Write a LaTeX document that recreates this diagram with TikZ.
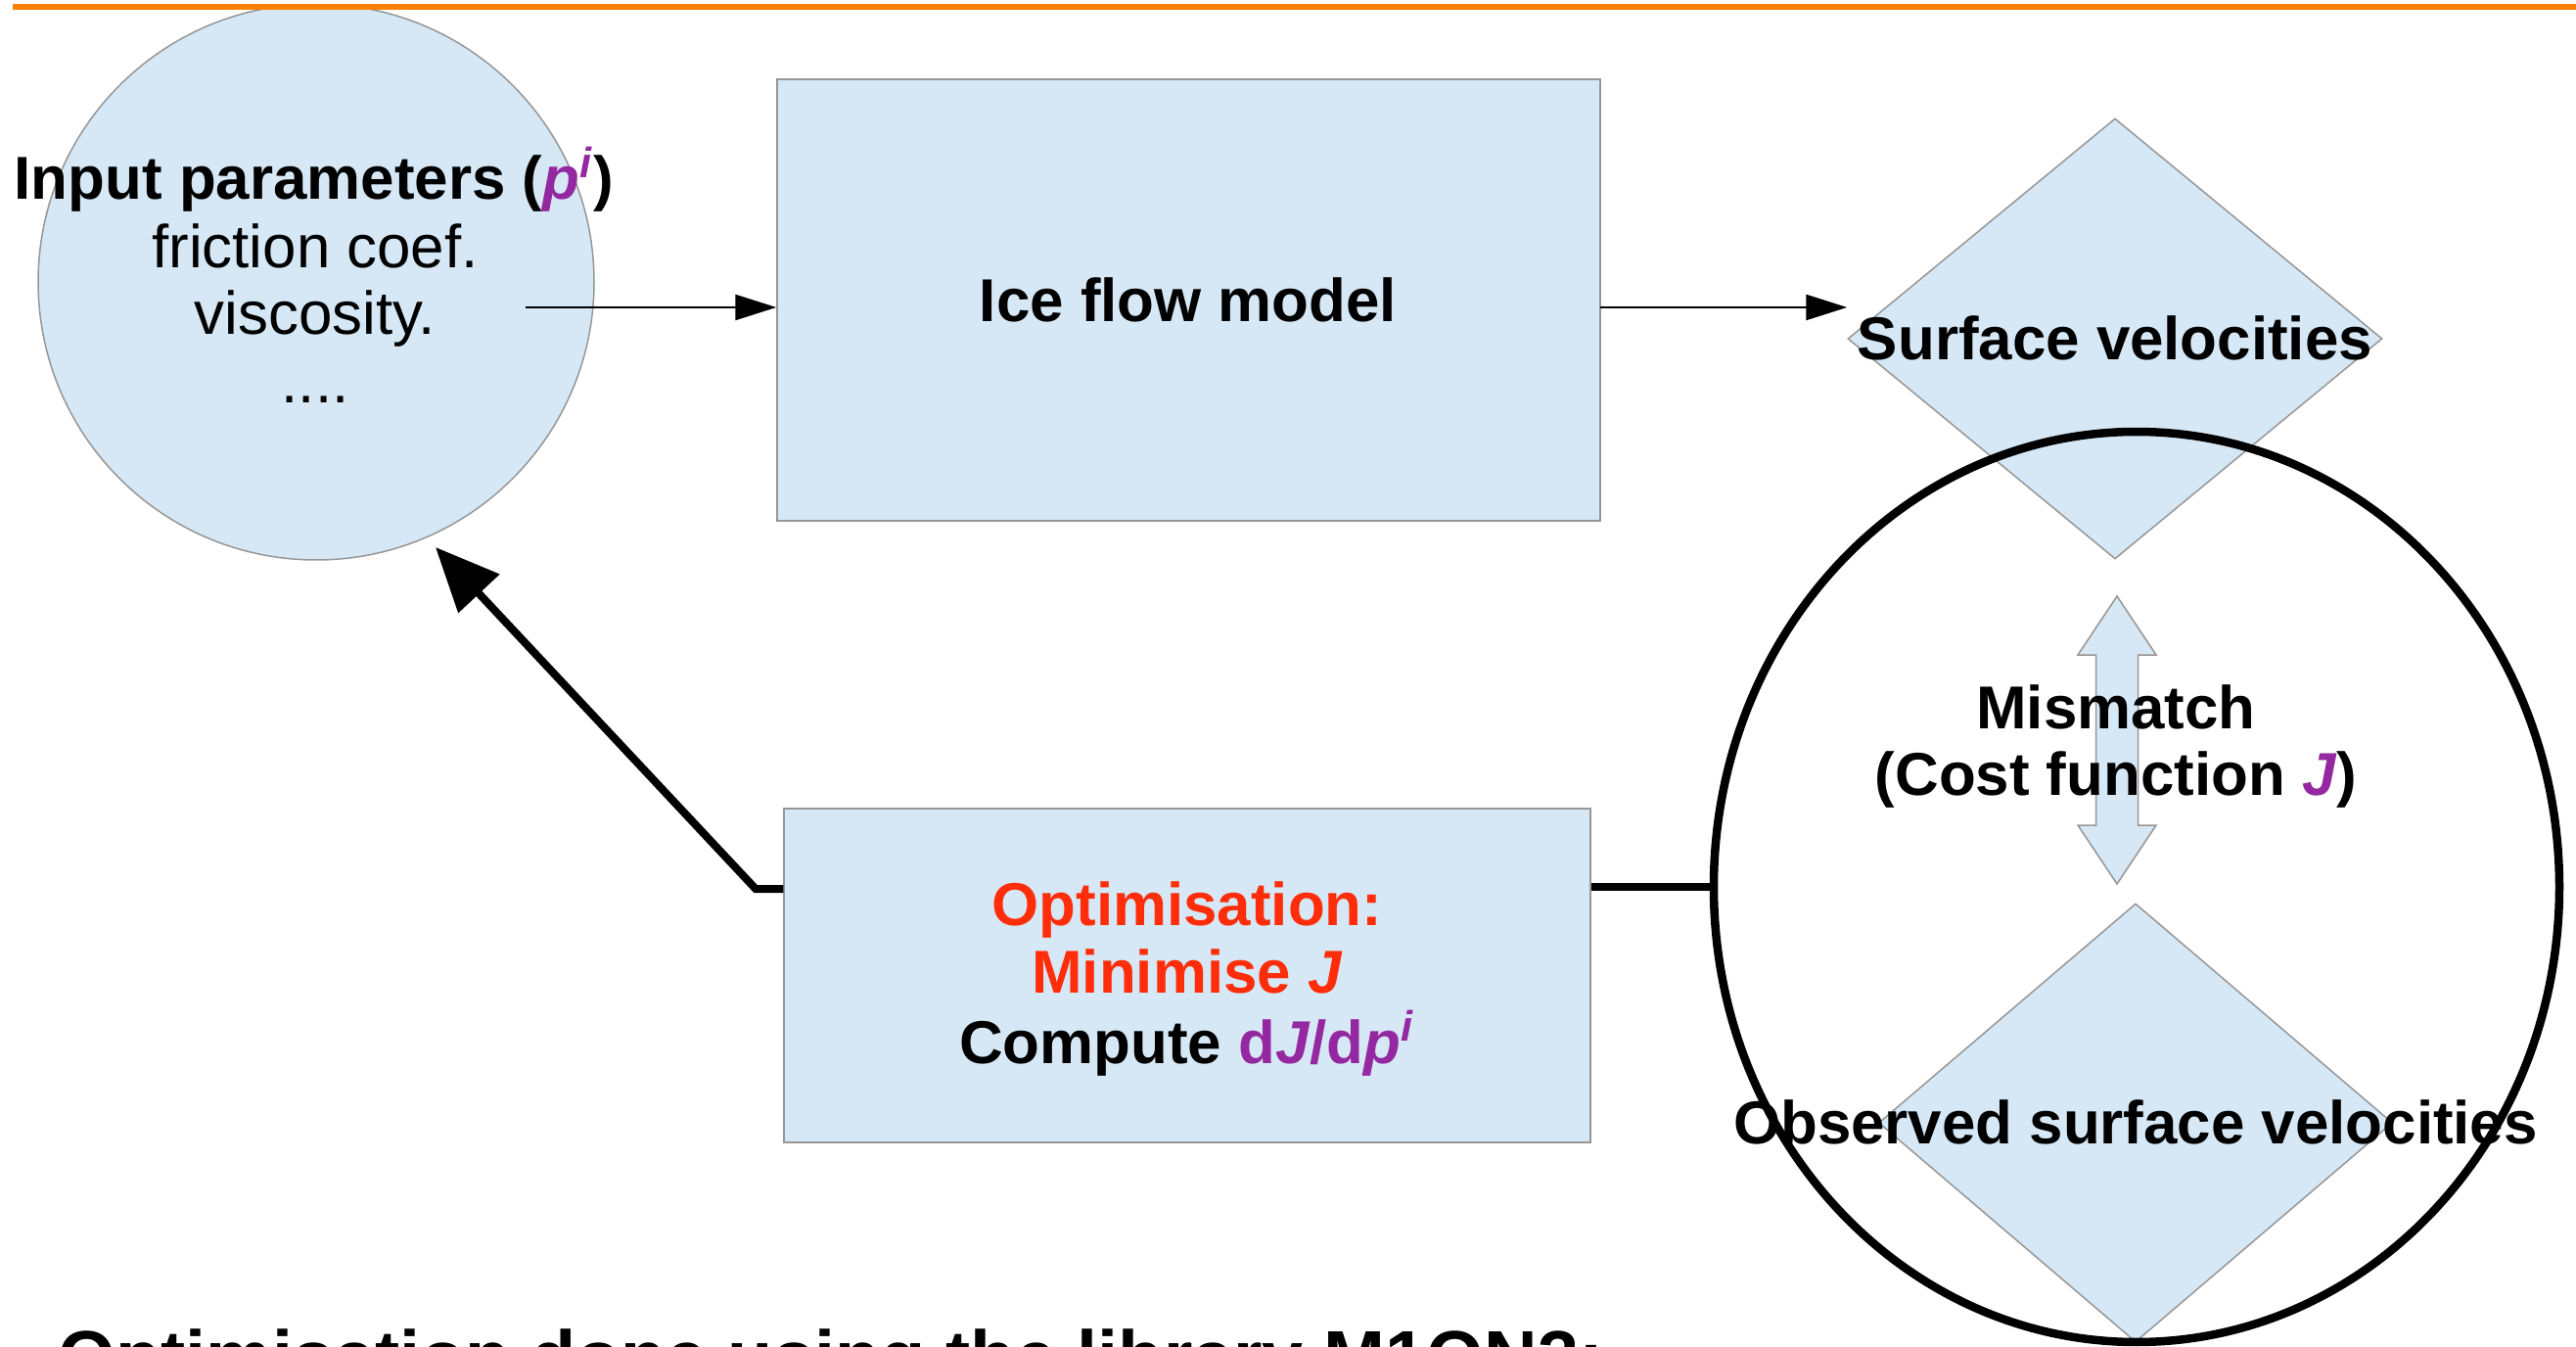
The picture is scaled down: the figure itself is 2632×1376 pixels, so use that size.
\documentclass[tikz,border=0pt]{standalone}
\usepackage{fontspec}
\setmainfont{Liberation Sans}
\usetikzlibrary{shapes.geometric,arrows.meta}
\definecolor{boxfill}{RGB}{214,232,245}
\definecolor{boxline}{RGB}{150,150,150}
\definecolor{optred}{RGB}{255,45,10}
\definecolor{parpurple}{RGB}{148,40,160}
\definecolor{rulecol}{RGB}{255,128,0}
\begin{document}
\begin{tikzpicture}[x=0.1mm,y=-0.1mm,
  shapebox/.style={draw=boxline, fill=boxfill, line width=0.15mm, inner sep=0pt},
  txt/.style={font=\fontsize{17.6}{19.7}\selectfont, inner sep=0pt, anchor=base},
  thinarrow/.style={line width=0.25mm, -{Triangle[length=4.2mm,width=2.6mm]}},
  fatline/.style={line width=0.8mm},
  fatarrow/.style={line width=0.8mm, -{Triangle[length=6.5mm,width=5.6mm]}}]
\useasboundingbox (0,0) rectangle (2632,1376);
\clip (0,0) rectangle (2632,1376);
% top rule
\draw[rulecol, line width=0.55mm] (13,7) -- (2632,7);
% input parameters circle
\begin{scope}
  \clip (0,11) rectangle (2632,1376);
  \node[shapebox, circle, minimum size=56.8mm] (inp) at (323,288) {};
\end{scope}
% ice flow model
\node[shapebox, rectangle, minimum width=84.1mm, minimum height=45.1mm] (ice) at (1214.5,306.5) {};
% surface velocities diamond
\node[shapebox, diamond, minimum width=54.6mm, minimum height=45mm] (sv) at (2161,346) {};
% observed surface velocities diamond
\node[shapebox, diamond, minimum width=52.5mm, minimum height=44.8mm] (obs) at (2182,1147) {};
% mismatch ellipse
\node[ellipse, draw=black, line width=0.85mm, minimum width=86.4mm, minimum height=93mm, inner sep=0pt] (mis) at (2183,906) {};
% double arrow
\draw[draw=boxline, fill=boxfill, line width=0.15mm]
  (2163,609) -- (2203,669) -- (2184.5,669) -- (2184.5,843) -- (2203,843) -- (2163,903)
  -- (2123,843) -- (2141.5,843) -- (2141.5,669) -- (2123,669) -- cycle;
% optimisation box
\node[shapebox, rectangle, minimum width=82.4mm, minimum height=34.1mm] (opt) at (1213,996.5) {};
% connectors
\coordinate (a1) at (537,314);
\draw[thinarrow] (a1) -- (a1 -| ice.west);
\coordinate (a2) at (1635,314);
\draw[thinarrow] (a2) -- (a2 -| sv.west);
\draw[fatline] (mis.west) -- (mis.west -| opt.east);
\coordinate (corner) at (772,908);
\coordinate (tip) at (445,559);
\draw[fatarrow] (corner -| opt.west) -- (corner) -- (tip);
% texts
\node[txt] (t1) at (321,204) {\textbf{Input parameters (\textcolor{parpurple}{\textit{p}\textsuperscript{\textit{i}}})}};
\node[txt] (t2) at (322,274) {friction coef.};
\node[txt] (t3) at (322,342) {viscosity.};
\node[txt] (t4) at (322,412) {....};
\node[txt] (t5) at (1214,329) {\textbf{Ice flow model}};
\node[txt] (t6) at (2161,368) {\textbf{Surface velocities}};
\node[txt] (t7) at (2162,744) {\textbf{Mismatch}};
\node[txt] (t8) at (2162,812) {\textbf{(Cost function \textcolor{parpurple}{\textit{J}})}};
\node[txt] (t9) at (2182,1168) {\textbf{Observed surface velocities}};
\node[txt, text=optred] (t10) at (1213,945) {\textbf{Optimisation:}};
\node[txt, text=optred] (t11) at (1213,1014) {\textbf{Minimise \textit{J}}};
\node[txt] (t12) at (1213,1086) {\textbf{Compute \textcolor{parpurple}{d\textit{J}/d\textit{p}\textsuperscript{\textit{i}}}}};
\node[txt, anchor=base west, font=\fontsize{21.5}{24}\selectfont] (t13) at (59,1412) {\textbf{Optimisation done using the library M1QN3:}};
\end{tikzpicture}
\end{document}
